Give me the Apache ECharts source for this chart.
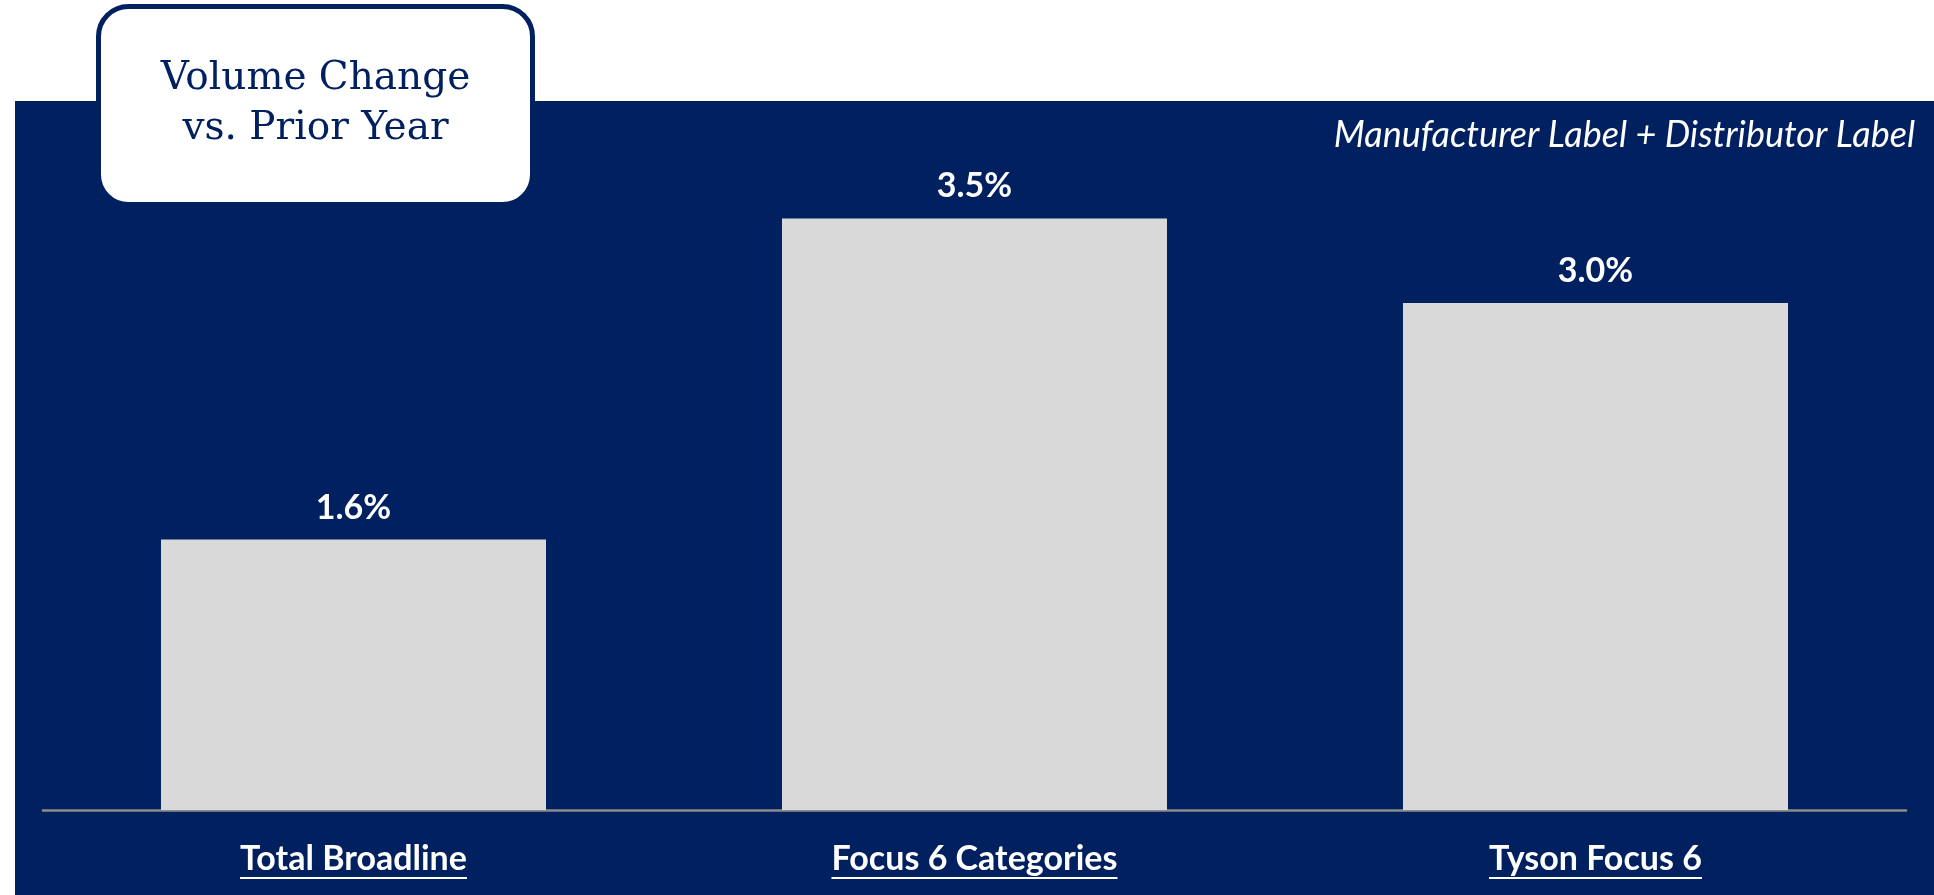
<!DOCTYPE html>
<html>
<head>
<meta charset="utf-8">
<script src="https://cdn.jsdelivr.net/npm/echarts@6/dist/echarts.min.js"></script>
<style>
  html, body { margin: 0; padding: 0; background: #fff; }
  #chart { width: 1934px; height: 895px; }
</style>
</head>
<body>
<div id="chart"></div>
<script>
const categories = ["Total Broadline", "Focus 6 Categories", "Tyson Focus 6"];
const volumeChange = [1.6, 3.5, 3.0];
const titleLines = ["Volume Change", "vs. Prior Year"];
const subtitle = "Manufacturer Label + Distributor Label";

const navy = "#002060";
const catFont = "bold 34px Lato";

// measure category widths so the underline matches the text
const ctx = document.createElement("canvas").getContext("2d");
ctx.font = catFont;
const catRich = { t: { color: "#fff", fontFamily: "Lato", fontWeight: "bold", fontSize: 34, lineHeight: 36 } };
categories.forEach((c, i) => {
  catRich["u" + i] = { width: Math.round(ctx.measureText(c).width), height: 2, backgroundColor: "#fff" };
});

const chart = echarts.init(document.getElementById("chart"), null, { renderer: "canvas" });

chart.setOption({
  backgroundColor: "#fff",
  animation: false,
  graphic: [
    { type: "rect", z: -10, shape: { x: 15, y: 101, width: 1934, height: 800 }, style: { fill: navy } },
    {
      type: "group", left: 96, top: 4, z: 100,
      children: [
        { type: "rect", shape: { x: 0, y: 0, width: 434, height: 198, r: 30 }, style: { fill: "#fff", stroke: navy, lineWidth: 5 } },
        {
          type: "text", x: 217, y: 97,
          style: {
            text: titleLines.join("\n"), fill: navy, font: "39px 'DejaVu Serif'",
            align: "center", verticalAlign: "middle", lineHeight: 50
          }
        }
      ]
    }
  ],
  title: {
    text: subtitle, right: 14, top: 112,
    textStyle: { color: "#fff", fontFamily: "Lato", fontStyle: "italic", fontWeight: "normal", fontSize: 36 }
  },
  grid: { left: 43, right: 28, top: 134, bottom: 85 },
  xAxis: {
    type: "category", data: categories,
    axisLine: { lineStyle: { color: "#8c8c8c", width: 2.5 } },
    axisTick: { show: false },
    axisLabel: {
      margin: 31,
      formatter: (v, i) => "{t|" + v + "}\n{u" + i + "|}",
      rich: catRich
    }
  },
  yAxis: { type: "value", min: 0, max: 4, show: false, splitLine: { show: false } },
  series: [{
    type: "bar", data: volumeChange, barWidth: "62%",
    itemStyle: { color: "#d9d9d9" },
    label: {
      show: true, position: "top", distance: 15, color: "#fff",
      fontFamily: "Lato", fontWeight: "bold", fontSize: 34,
      formatter: p => p.value.toFixed(1) + "%"
    }
  }]
});
</script>
</body>
</html>
